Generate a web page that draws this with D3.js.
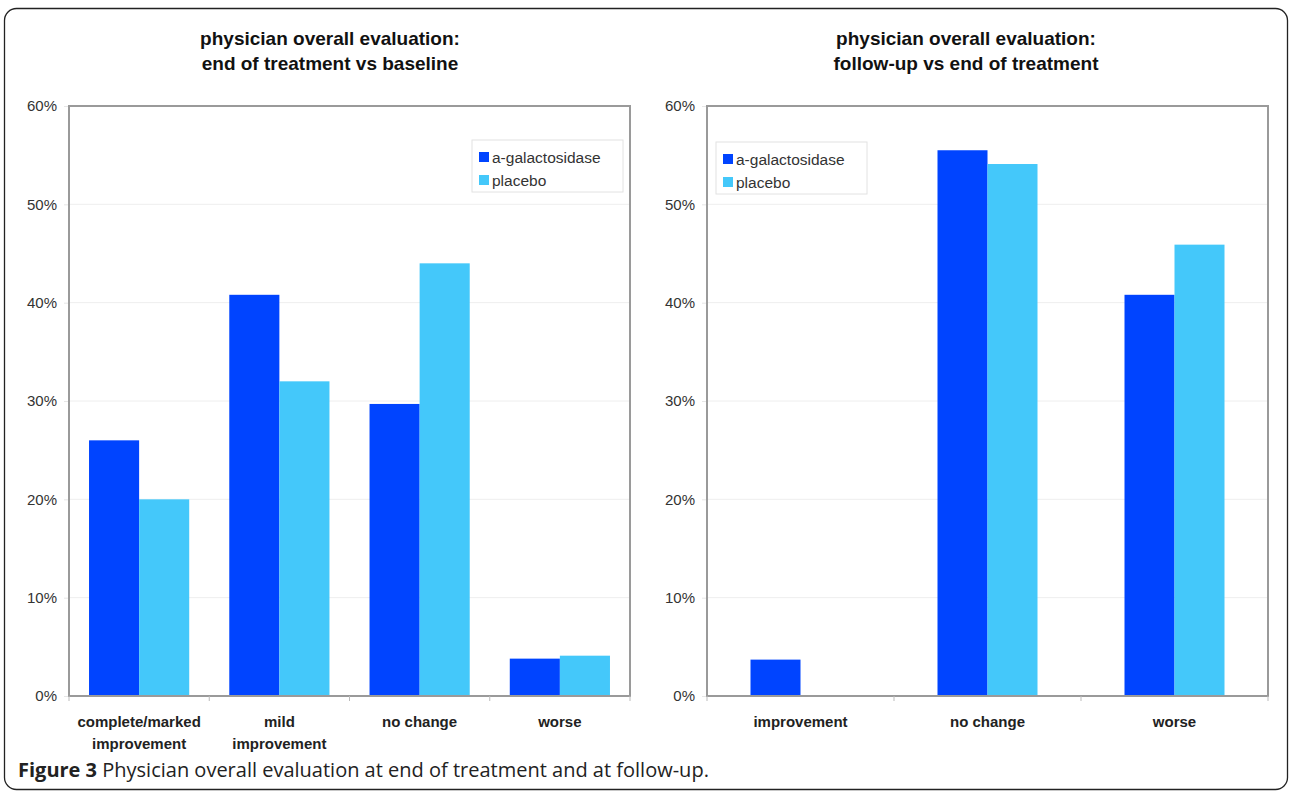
<!DOCTYPE html>
<html>
<head>
<meta charset="utf-8">
<script src="https://cdn.jsdelivr.net/npm/d3@7"></script>
<style>
  body { margin: 0; background: #fff; }
  svg { display: block; }
</style>
</head>
<body>
<div id="vis"></div>
<script>
// data (percent of patients)
const SERIES = ["a-galactosidase", "placebo"];
const COLORS = ["#0044ff", "#44c8fa"];
const Y_TICKS = [0, 10, 20, 30, 40, 50, 60];

const LEFT_TITLE = ["physician overall evaluation:", "end of treatment vs baseline"];
const LEFT_CATEGORIES = ["complete/marked\nimprovement", "mild\nimprovement", "no change", "worse"];
const LEFT_AGAL = [26.0, 40.8, 29.7, 3.8];
const LEFT_PLACEBO = [20.0, 32.0, 44.0, 4.1];

const RIGHT_TITLE = ["physician overall evaluation:", "follow-up vs end of treatment"];
const RIGHT_CATEGORIES = ["improvement", "no change", "worse"];
const RIGHT_AGAL = [3.7, 55.5, 40.8];
const RIGHT_PLACEBO = [0, 54.1, 45.9];

const FRAME_WIDTH = 1290;
const FRAME_HEIGHT = 795;
const FONT = "Arial, 'Liberation Sans', sans-serif";

const SVG = d3.select("#vis")
              .append("svg")
                .attr("width", FRAME_WIDTH)
                .attr("height", FRAME_HEIGHT);

// outer rounded frame
SVG.append("rect")
    .attr("x", 4.5).attr("y", 8.5)
    .attr("width", 1283).attr("height", 781)
    .attr("rx", 12).attr("ry", 12)
    .attr("fill", "none")
    .attr("stroke", "#222")
    .attr("stroke-width", 1.3);

function drawChart(opt) {
    const left = opt.left, right = opt.right, top = 106, bottom = 696;

    const X_SCALE = d3.scaleBand()
                      .domain(opt.categories)
                      .range([left, right])
                      .padding(0);

    const X_INNER = d3.scaleBand()
                      .domain(SERIES)
                      .range([0, X_SCALE.bandwidth()])
                      .paddingInner(0)
                      .paddingOuter(opt.outerPad);

    const Y_SCALE = d3.scaleLinear()
                      .domain([0, 60])
                      .range([bottom, top]);

    // gridlines
    SVG.append("g")
        .selectAll("line")
        .data(Y_TICKS.slice(1, -1))
        .enter()
        .append("line")
          .attr("x1", left).attr("x2", right)
          .attr("y1", (d) => Y_SCALE(d)).attr("y2", (d) => Y_SCALE(d))
          .attr("stroke", "#eeeeee")
          .attr("stroke-width", 1);

    // y axis labels + small ticks
    const yAxis = SVG.append("g")
        .attr("transform", "translate(" + left + ",0)")
        .call(d3.axisLeft(Y_SCALE).tickValues(Y_TICKS)
                .tickFormat((d) => d + "%").tickSize(5).tickPadding(7));
    yAxis.select(".domain").remove();
    yAxis.selectAll("line").attr("stroke", "#e6e6e6");
    yAxis.selectAll("text")
        .attr("font-family", FONT)
        .attr("font-size", "15px")
        .attr("fill", "#333");

    // bars
    const rows = opt.categories.map((c, i) => ({cat: c, vals: [opt.agal[i], opt.placebo[i]]}));
    const groups = SVG.append("g")
        .selectAll("g")
        .data(rows)
        .enter()
        .append("g")
          .attr("transform", (d) => "translate(" + X_SCALE(d.cat) + ",0)");

    groups.selectAll("rect")
        .data((d) => d.vals.map((v, j) => ({series: SERIES[j], value: v, color: COLORS[j]})))
        .enter()
        .append("rect")
          .attr("x", (d) => X_INNER(d.series))
          .attr("y", (d) => Y_SCALE(d.value))
          .attr("width", X_INNER.bandwidth())
          .attr("height", (d) => bottom - Y_SCALE(d.value))
          .attr("fill", (d) => d.color);

    // plot area border
    SVG.append("rect")
        .attr("x", left).attr("y", top)
        .attr("width", right - left).attr("height", bottom - top)
        .attr("fill", "none")
        .attr("stroke", "#9a9a9a")
        .attr("stroke-width", 2);

    // x axis ticks at band edges
    const edges = opt.categories.map((c) => X_SCALE(c)).concat([right]);
    SVG.append("g")
        .selectAll("line")
        .data(edges)
        .enter()
        .append("line")
          .attr("x1", (d) => d).attr("x2", (d) => d)
          .attr("y1", bottom).attr("y2", bottom + 5)
          .attr("stroke", "#bbbbbb");

    // category labels
    const labels = SVG.append("g")
        .selectAll("text")
        .data(opt.categories)
        .enter()
        .append("text")
          .attr("x", (d) => X_SCALE(d) + X_SCALE.bandwidth() / 2)
          .attr("y", 727)
          .attr("text-anchor", "middle")
          .attr("font-family", FONT)
          .attr("font-size", "15px")
          .attr("font-weight", "bold")
          .attr("fill", "#222");
    labels.selectAll("tspan")
        .data((d) => d.split("\n").map((t) => ({t: t})))
        .enter()
        .append("tspan")
          .attr("x", function () { return this.parentNode.getAttribute("x"); })
          .attr("dy", (d, i) => i === 0 ? 0 : 22)
          .text((d) => d.t);

    // title
    SVG.append("text")
        .attr("x", opt.titleX)
        .attr("y", 45)
        .attr("text-anchor", "middle")
        .attr("font-family", FONT)
        .attr("font-size", "19px")
        .attr("font-weight", "bold")
        .attr("fill", "#111")
        .selectAll("tspan")
        .data(opt.title)
        .enter()
        .append("tspan")
          .attr("x", opt.titleX)
          .attr("dy", (d, i) => i === 0 ? 0 : 25)
          .text((d) => d);

    // legend
    const lg = SVG.append("g")
        .attr("transform", "translate(" + opt.legendX + "," + opt.legendY + ")");
    lg.append("rect")
        .attr("width", 151).attr("height", 52)
        .attr("fill", "#fff")
        .attr("stroke", "#e2e2e2");
    const items = lg.selectAll("g")
        .data(SERIES)
        .enter()
        .append("g")
          .attr("transform", (d, i) => "translate(7," + (12 + i * 23) + ")");
    items.append("rect")
        .attr("width", 10).attr("height", 10)
        .attr("fill", (d, i) => COLORS[i]);
    items.append("text")
        .attr("x", 13).attr("y", 10.5)
        .attr("font-family", FONT)
        .attr("font-size", "15.5px")
        .attr("fill", "#333")
        .text((d) => d);
}

drawChart({
    left: 69, right: 630, outerPad: 0.4,
    categories: LEFT_CATEGORIES, agal: LEFT_AGAL, placebo: LEFT_PLACEBO,
    title: LEFT_TITLE, titleX: 330,
    legendX: 472, legendY: 140
});

drawChart({
    left: 707, right: 1268, outerPad: 0.87,
    categories: RIGHT_CATEGORIES, agal: RIGHT_AGAL, placebo: RIGHT_PLACEBO,
    title: RIGHT_TITLE, titleX: 966,
    legendX: 716, legendY: 142
});

// figure caption
const CAPTION = SVG.append("text")
    .attr("x", 18)
    .attr("y", 777)
    .attr("font-family", "'Open Sans', 'Noto Sans', sans-serif")
    .attr("font-size", "20px")
    .attr("fill", "#222");
CAPTION.append("tspan").attr("font-weight", "bold").text("Figure 3");
CAPTION.append("tspan").text(" Physician overall evaluation at end of treatment and at follow-up.");
</script>
</body>
</html>
